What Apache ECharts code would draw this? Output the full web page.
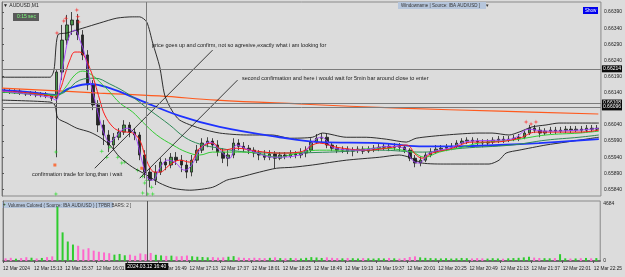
<!DOCTYPE html>
<html><head><meta charset="utf-8">
<script src="https://cdn.jsdelivr.net/npm/echarts@6/dist/echarts.min.js"></script>
<style>html,body{margin:0;padding:0;background:#dcdcdc}#c{width:625px;height:277px}</style>
</head><body><div id="c"></div>
<script>
// minutes after 14:49 (bar centres, 4-minute bars)
const barTime = [2,6,10,14,18,22,26,30,34,38,42,46,50,54,58,62,66,70,74,78,82,86,90,94,98,102,106,110,114,118,122,126,130,134,138,142,146,150,154,158,162,166,170,174,178,182,186,190,194,198,202,206,210,214,218,222,226,230,234,238,242,246,250,254,258,262,266,270,274,278,282,286,290,294,298,302,306,310,314,318,322,326,330,334,338,342,346,350,354,358,362,366,370,374,378,382,386,390,394,398,402,406,410,414,418,422,426,430,434,438,442,446,450,454,458];
const open = [0.66148,0.66145,0.66142,0.66145,0.66139,0.66136,0.66139,0.66133,0.66136,0.66130,
0.66123,0.66204,0.66303,0.66350,0.66365,0.66319,0.66257,0.66164,0.66102,0.66040,
0.66009,0.65978,0.66002,0.66018,0.66040,0.66018,0.66009,0.65947,0.65894,0.65869,
0.65894,0.65925,0.65916,0.65940,0.65931,0.65916,0.65894,0.65931,0.65962,0.65984,
0.65990,0.65978,0.65956,0.65937,0.65947,0.65984,0.65974,0.65968,0.65962,0.65953,
0.65947,0.65940,0.65950,0.65937,0.65947,0.65943,0.65950,0.65947,0.65953,0.65962,
0.65987,0.65999,0.66002,0.65978,0.65968,0.65962,0.65965,0.65959,0.65962,0.65965,
0.65959,0.65965,0.65968,0.65971,0.65974,0.65971,0.65974,0.65971,0.65962,0.65937,
0.65922,0.65931,0.65947,0.65956,0.65965,0.65968,0.65971,0.65974,0.65984,0.65990,
0.65993,0.65990,0.65987,0.65984,0.65987,0.65993,0.65996,0.65993,0.65996,0.65999,
0.66002,0.66015,0.66030,0.66024,0.66015,0.66021,0.66024,0.66021,0.66024,0.66027,
0.66024,0.66027,0.66024,0.66030,0.66027];
const close = [0.66145,0.66142,0.66145,0.66139,0.66136,0.66139,0.66133,0.66136,0.66130,0.66123,
0.66204,0.66303,0.66350,0.66365,0.66319,0.66257,0.66164,0.66102,0.66040,0.66009,
0.65978,0.66002,0.66018,0.66040,0.66018,0.66009,0.65947,0.65894,0.65869,0.65894,
0.65925,0.65916,0.65940,0.65931,0.65916,0.65894,0.65931,0.65962,0.65984,0.65990,
0.65978,0.65956,0.65937,0.65947,0.65984,0.65974,0.65968,0.65962,0.65953,0.65947,
0.65940,0.65950,0.65937,0.65947,0.65943,0.65950,0.65947,0.65953,0.65962,0.65987,
0.65999,0.66002,0.65978,0.65968,0.65962,0.65965,0.65959,0.65962,0.65965,0.65959,
0.65965,0.65968,0.65971,0.65974,0.65971,0.65974,0.65971,0.65962,0.65937,0.65922,
0.65931,0.65947,0.65956,0.65965,0.65968,0.65971,0.65974,0.65984,0.65990,0.65993,
0.65990,0.65987,0.65984,0.65987,0.65993,0.65996,0.65993,0.65996,0.65999,0.66002,
0.66015,0.66030,0.66024,0.66015,0.66021,0.66024,0.66021,0.66024,0.66027,0.66024,
0.66027,0.66024,0.66030,0.66027,0.66030];
const low = [0.66139,0.66136,0.66136,0.66133,0.66130,0.66130,0.66126,0.66126,0.66123,0.66114,
0.65940,0.66179,0.66288,0.66319,0.66303,0.66241,0.66148,0.66086,0.66018,0.65978,
0.65956,0.65962,0.65993,0.66009,0.66002,0.65993,0.65931,0.65875,0.65847,0.65854,
0.65885,0.65900,0.65906,0.65916,0.65894,0.65875,0.65881,0.65922,0.65953,0.65971,
0.65962,0.65943,0.65922,0.65912,0.65937,0.65962,0.65956,0.65950,0.65940,0.65931,
0.65931,0.65931,0.65906,0.65931,0.65934,0.65937,0.65937,0.65937,0.65940,0.65956,
0.65981,0.65987,0.65968,0.65959,0.65953,0.65953,0.65950,0.65943,0.65953,0.65950,
0.65953,0.65956,0.65959,0.65962,0.65959,0.65962,0.65959,0.65953,0.65928,0.65909,
0.65912,0.65925,0.65940,0.65950,0.65959,0.65959,0.65962,0.65968,0.65978,0.65981,
0.65981,0.65978,0.65971,0.65974,0.65981,0.65984,0.65984,0.65987,0.65990,0.65990,
0.65996,0.66009,0.66015,0.66002,0.66009,0.66012,0.66012,0.66015,0.66015,0.66015,
0.66018,0.66015,0.66018,0.66018,0.66021];
const high = [0.66154,0.66151,0.66151,0.66151,0.66145,0.66145,0.66145,0.66142,0.66142,0.66136,
0.66210,0.66350,0.66381,0.66390,0.66384,0.66334,0.66272,0.66179,0.66117,0.66055,
0.66024,0.66015,0.66030,0.66055,0.66049,0.66030,0.66018,0.65962,0.65906,0.65916,
0.65937,0.65937,0.65953,0.65956,0.65947,0.65931,0.65947,0.65978,0.65999,0.66002,
0.65999,0.65993,0.65968,0.65962,0.65999,0.65996,0.65987,0.65978,0.65971,0.65962,
0.65962,0.65962,0.65959,0.65956,0.65956,0.65962,0.65959,0.65968,0.65974,0.65999,
0.66012,0.66015,0.66012,0.65987,0.65978,0.65974,0.65974,0.65971,0.65974,0.65974,
0.65974,0.65978,0.65981,0.65984,0.65984,0.65984,0.65984,0.65978,0.65968,0.65947,
0.65943,0.65956,0.65968,0.65978,0.65978,0.65981,0.65984,0.65993,0.65999,0.66002,
0.66002,0.65999,0.65996,0.65996,0.66002,0.66006,0.66006,0.66006,0.66009,0.66012,
0.66024,0.66040,0.66040,0.66034,0.66030,0.66034,0.66034,0.66034,0.66037,0.66037,
0.66037,0.66037,0.66040,0.66040,0.66040];
const volume = [220,260,190,240,310,270,210,250,320,380,
4450,2350,1600,1350,1250,950,1050,850,760,700,640,520,580,470,520,430,620,560,660,510,
460,420,440,380,400,450,390,350,330,300,
320,280,300,350,400,290,260,240,270,250,
230,260,300,240,220,250,230,210,260,320,
290,250,300,260,240,220,250,230,210,240,
220,200,230,210,250,220,200,240,330,380,
300,260,240,220,210,230,200,220,250,230,
210,240,220,200,230,210,190,220,240,260,
300,350,280,250,230,220,240,560,220,200,
210,230,250,220,240];

// indicator lines: [minute, price]
const maOrange = [[0,0.66154],[75,0.66139],[121,0.66130],[165,0.66117],[229,0.66105],[306,0.66092],[383,0.66083],[459,0.66074]];
const maBlue = [[0,0.66148],[21.5,0.66142],[40.7,0.66133],[52.2,0.66154],[67.6,0.66167],[83,0.66154],[106,0.66117],[136.8,0.66068],[167.5,0.66034],[213.6,0.66002],[244.3,0.65987],[290.4,0.65984],[321.1,0.65974],[351.9,0.65974],[382.6,0.65978],[413.3,0.65984],[459.4,0.65996]];
const maSea = [[0,0.66142],[40.7,0.66133],[48.4,0.66142],[59.9,0.66179],[71.5,0.66185],[83,0.66167],[98.3,0.66133],[113.7,0.66086],[129.1,0.66040],[140.6,0.66002],[152.1,0.65981],[167.5,0.65968],[188.2,0.65956],[213.6,0.65953],[252,0.65956],[290.4,0.65962],[323.5,0.65956],[354.2,0.65968],[392.6,0.65978],[418.7,0.65993],[444.1,0.66002],[459.4,0.66009]];
const maLime = [[0,0.66142],[36.9,0.66133],[42.3,0.66130],[48.4,0.66154],[56.1,0.66195],[62.2,0.66207],[69.1,0.66195],[75.3,0.66173],[83,0.66142],[90.7,0.66108],[100.6,0.66080],[108.3,0.66049],[119.1,0.66009],[131.4,0.65978],[142.1,0.65956],[152.1,0.65947],[162.1,0.65956],[188.2,0.65956],[213.6,0.65940],[221.3,0.65947],[244.3,0.65962],[265.1,0.65962],[290.4,0.65968],[315.8,0.65956],[325,0.65940],[336.5,0.65956],[354.2,0.65971],[367.2,0.65984],[392.6,0.65993],[418.7,0.66009],[444.1,0.66015],[459.4,0.66021]];
const maRed = [[0,0.66145],[21.5,0.66139],[36.9,0.66130],[40.7,0.66126],[44.6,0.66148],[48.4,0.66195],[52.2,0.66241],[56.1,0.66266],[59.9,0.66266],[63.8,0.66250],[67.6,0.66216],[71.5,0.66170],[75.3,0.66117],[79.1,0.66071],[85.3,0.66034],[90.7,0.66021],[96,0.66018],[100.6,0.66015],[106,0.65993],[109.9,0.65947],[113.7,0.65909],[117.5,0.65894],[121.4,0.65894],[129.1,0.65916],[136.8,0.65931],[144.4,0.65925],[152.1,0.65968],[162.1,0.65984],[169.8,0.65962],[180.5,0.65968],[195.9,0.65959],[213.6,0.65953],[229,0.65956],[244.3,0.65984],[257.4,0.65971],[280.4,0.65962],[300.4,0.65971],[311.2,0.65978],[318.8,0.65947],[323.5,0.65937],[331.1,0.65953],[346.5,0.65968],[361.9,0.65987],[377.2,0.65987],[398,0.65999],[411,0.66018],[423.3,0.66018],[444.1,0.66018],[459.4,0.66024]];
const maPurple = [[0,0.66145],[36.9,0.66126],[41.5,0.66117],[44.6,0.66164],[48.4,0.66257],[52.2,0.66319],[56.1,0.66334],[59.9,0.66303],[63.8,0.66257],[67.6,0.66179],[71.5,0.66117],[75.3,0.66055],[79.1,0.66009],[83,0.65987],[86.8,0.65999],[92.2,0.66024],[96.8,0.66030],[102.2,0.66009],[107.6,0.65931],[112.2,0.65875],[116,0.65869],[121.4,0.65906],[127.5,0.65931],[132.9,0.65925],[140.6,0.65900],[146,0.65916],[152.1,0.65962],[159.8,0.65987],[167.5,0.65962],[175.2,0.65937],[180.5,0.65978],[190.5,0.65962],[209.7,0.65940],[229,0.65947],[240.5,0.65993],[245.9,0.66002],[255.8,0.65968],[275,0.65962],[298.1,0.65974],[309.6,0.65968],[315.8,0.65931],[321.1,0.65922],[328.8,0.65953],[344.2,0.65968],[359.6,0.65990],[382.6,0.65993],[394.1,0.65999],[405.7,0.66027],[417.2,0.66021],[444.1,0.66024],[459.4,0.66030]];
const bbUpper = [[0,0.66188],[36.9,0.66188],[40,0.66210],[43,0.66319],[50,0.66325],[62.2,0.66340],[75.3,0.66356],[88.4,0.66371],[100.6,0.66375],[106,0.66375],[111.4,0.66359],[116,0.66294],[121.4,0.66220],[125.2,0.66133],[130.6,0.66086],[136.8,0.66055],[152.1,0.66030],[167.5,0.66015],[188.2,0.66009],[208.2,0.66009],[221.3,0.65999],[238.9,0.66002],[246.6,0.66015],[265.1,0.66002],[280.4,0.66002],[295.8,0.65996],[311.2,0.65987],[318.8,0.65999],[341.9,0.66009],[367.2,0.66015],[377.2,0.66015],[390.3,0.66009],[398,0.66018],[408,0.66034],[418.7,0.66040],[428.7,0.66046],[459.4,0.66046]];
const bbLower = [[0,0.66117],[36.9,0.66111],[40.7,0.66102],[43,0.66061],[50,0.66046],[57.6,0.66030],[67.6,0.66018],[75.3,0.66002],[83,0.65978],[90.7,0.65940],[100.6,0.65909],[111.4,0.65885],[121.4,0.65860],[131.4,0.65844],[144.4,0.65838],[162.1,0.65847],[172.9,0.65869],[182.9,0.65878],[198.2,0.65894],[211.3,0.65906],[223.6,0.65909],[238.9,0.65916],[265.1,0.65931],[290.4,0.65940],[305.8,0.65947],[313.5,0.65940],[323.5,0.65922],[341.9,0.65919],[374.9,0.65919],[382.6,0.65931],[388,0.65953],[398,0.65962],[418.7,0.65978],[434.1,0.65987],[459.4,0.66002]];
const fractalUp = [[42.3,0.66325],[47.6,0.66362],[49.2,0.66371],[57.6,0.66396],[58.4,0.66375],[59.2,0.66359],[403.4,0.66049],[407.2,0.66043],[411,0.66049]];
const fractalDown = [[41.5,0.65956],[76.8,0.65959],[80.7,0.65940],[83,0.65971],[89.1,0.65940],[92.2,0.65922],[94.5,0.65925],[104.5,0.65900],[108.3,0.65881],[111.4,0.65869],[115.2,0.65847],[109.9,0.65860],[108.3,0.65829],[112.2,0.65826],[116,0.65826],[41.5,0.65826]];
const arrowMarks = [[40.7,0.65916],[107.6,0.65906]];
const trendLines = [[[162.1,0.66272],[71.4,0.65906]],[[181.3,0.66179],[106,0.65875]]];
const crossTime = 111, crossTimeText = '2024.03.12 16:40', crossPrice = 0.66214;
const levelLines = [0.66108, 0.66096];
const priceTicks = [0.65840,0.65890,0.65940,0.65990,0.66040,0.66090,0.66140,0.66190,0.66240,0.66290,0.66340,0.66390];
const volTicks = [0, 4684];
const tickMinutes = [0,24,48,72,96,120,144,168,192,216,240,264,288,312,336,360,384,408,432,456];
const tickLabels = ['12 Mar 2024','12 Mar 15:13','12 Mar 15:37','12 Mar 16:01','12 Mar 16:25','12 Mar 16:49','12 Mar 17:13','12 Mar 17:37','12 Mar 18:01','12 Mar 18:25','12 Mar 18:49','12 Mar 19:13','12 Mar 19:37','12 Mar 20:01','12 Mar 20:25','12 Mar 20:49','12 Mar 21:13','12 Mar 21:37','12 Mar 22:01','12 Mar 22:25'];

const FONT = 'Liberation Sans, Arial, sans-serif';
const chart = echarts.init(document.getElementById('c'));
const candleData = barTime.map((t,i)=>[t, open[i], close[i], low[i], high[i]]);
const volData = barTime.map((t,i)=>[t, volume[i]]);
const boxLabel = (txt)=>({show:true, position:'end', formatter:txt, backgroundColor:'#0a0a0a', color:'#fff', fontSize:5, fontFamily:FONT, padding:[1,1], distance:1});
const lineS = (data, color, width, smooth, extra)=>Object.assign({type:'line', xAxisIndex:0, yAxisIndex:0, data, showSymbol:false, smooth:smooth==null?0.35:smooth, silent:true, lineStyle:{color, width}}, extra||{});
const star = 'path://M5 0 L6 4 L10 5 L6 6 L5 10 L4 6 L0 5 L4 4 Z';

const option = {
  animation:false,
  backgroundColor:'#dcdcdc',
  grid:[
    {left:2, top:2, width:601, height:194, show:true, borderColor:'#8a8a8a', borderWidth:1},
    {left:2, top:201, width:601, height:60, show:true, borderColor:'#8a8a8a', borderWidth:1}
  ],
  xAxis:[
    {gridIndex:0, type:'value', min:0, max:461, show:false},
    {gridIndex:1, type:'value', min:0, max:461,
     axisLine:{show:true, lineStyle:{color:'#555', width:1.5}},
     axisTick:{show:true, customValues:tickMinutes, length:2, lineStyle:{color:'#555'}},
     axisLabel:{customValues:tickMinutes, formatter:v=>tickLabels[tickMinutes.indexOf(v)], align:'left', fontSize:4.8, color:'#222', margin:5, fontFamily:FONT, hideOverlap:false},
     splitLine:{show:false}}
  ],
  yAxis:[
    {gridIndex:0, type:'value', position:'right', min:0.65820, max:0.66421,
     axisLine:{show:true, lineStyle:{color:'#777'}},
     axisTick:{show:true, customValues:priceTicks, length:2, lineStyle:{color:'#555'}},
     axisLabel:{customValues:priceTicks, formatter:v=>v.toFixed(5), fontSize:5, color:'#222', margin:3, fontFamily:FONT},
     splitLine:{show:false}},
    {gridIndex:1, type:'value', position:'right', min:0, max:4926,
     axisLine:{show:true, lineStyle:{color:'#777'}},
     axisTick:{show:true, customValues:volTicks, length:2, lineStyle:{color:'#555'}},
     axisLabel:{customValues:volTicks, formatter:v=>String(v), fontSize:5, color:'#222', margin:3, fontFamily:FONT},
     splitLine:{show:false}}
  ],
  series:[
    lineS(maOrange,'#ff5a1e',1.2,0.4,{
      markLine:{symbol:['none','none'], precision:5, silent:true, animation:false, lineStyle:{color:'#7c7c7c', width:1, type:'solid'},
       data:[
         {yAxis:crossPrice, label:boxLabel(crossPrice.toFixed(5))},
         {xAxis:crossTime, label:{show:false}},
         {yAxis:levelLines[0], label:boxLabel(levelLines[0].toFixed(5))},
         {yAxis:levelLines[1], label:boxLabel(levelLines[1].toFixed(5))}
       ]}}),
    lineS(bbUpper,'#1a1a1a',0.9,0.25),
    lineS(bbLower,'#1a1a1a',0.9,0.25),
    lineS(maBlue,'#1e32ff',1.8,0.4),
    lineS(maSea,'#2e8b57',1,0.4),
    {type:'candlestick', xAxisIndex:0, yAxisIndex:0, data:candleData, encode:{x:0, y:[1,2,3,4]}, barWidth:3, silent:true,
     itemStyle:{color:'#4a944a', color0:'#262626', borderColor:'#1e1e1e', borderColor0:'#1e1e1e', borderWidth:0.8}},
    lineS(maLime,'#33cc33',1,0.4),
    lineS(maRed,'#ff1a1a',1,0.4),
    lineS(maPurple,'#a040ff',0.9,0.4),
    {type:'line', xAxisIndex:0, yAxisIndex:0, data:trendLines[0], showSymbol:false, silent:true, lineStyle:{color:'#111', width:0.8}},
    {type:'line', xAxisIndex:0, yAxisIndex:0, data:trendLines[1], showSymbol:false, silent:true, lineStyle:{color:'#111', width:0.8}},
    {type:'scatter', xAxisIndex:0, yAxisIndex:0, data:fractalUp, symbol:star, symbolSize:5, silent:true, itemStyle:{color:'#ff2020'}},
    {type:'scatter', xAxisIndex:0, yAxisIndex:0, data:fractalDown, symbol:star, symbolSize:5, silent:true, itemStyle:{color:'#22dd22'}},
    {type:'scatter', xAxisIndex:0, yAxisIndex:0, data:arrowMarks, symbol:'rect', symbolSize:3, silent:true, itemStyle:{color:'#ff5a1e'}},
    {type:'bar', xAxisIndex:1, yAxisIndex:1, data:volData, barWidth:2, silent:true,
     itemStyle:{color:p=>close[p.dataIndex]>=open[p.dataIndex]?'#2ecc2e':'#ff66cc'},
     markLine:{symbol:['none','none'], silent:true, animation:false, lineStyle:{color:'#555', width:1, type:'solid'},
       data:[{xAxis:crossTime, label:{show:true, position:'start', formatter:crossTimeText, backgroundColor:'#0a0a0a', color:'#fff', fontSize:5, fontFamily:FONT, padding:[1,2], distance:2}}]}}
  ],
  graphic:[
    {type:'text', left:3, top:3, style:{text:'▼ AUDUSD,M1', fontSize:5, fill:'#222', fontFamily:FONT}},
    {type:'group', left:13, top:13, children:[
      {type:'rect', shape:{x:0,y:0,width:26,height:8}, style:{fill:'#5a5a5a'}},
      {type:'text', x:4, y:1.5, style:{text:'0:15 sec', fontSize:5, fill:'#7dff7d', fontFamily:FONT}}
    ]},
    {type:'group', left:398, top:2, children:[
      {type:'rect', shape:{x:0,y:0,width:88,height:7}, style:{fill:'#b6c6dc'}},
      {type:'text', x:3, y:1, style:{text:'Windowname | Source: IBA AUD/USD ]    ▼', fontSize:4.5, fill:'#333', fontFamily:FONT}}
    ]},
    {type:'group', left:583, top:7, children:[
      {type:'rect', shape:{x:0,y:0,width:15,height:7}, style:{fill:'#0000ee'}},
      {type:'text', x:2, y:1, style:{text:'Show', fontSize:4.5, fill:'#fff', fontFamily:FONT}}
    ]},
    {type:'text', left:152, top:42, style:{text:'price goes up and confirm, not so agresive,exactly what i am looking for', fontSize:5.5, fill:'#1a1a1a', fontFamily:FONT}},
    {type:'text', left:242, top:75, style:{text:'second confirmation and here i would wait for 5min bar around close to enter', fontSize:5.5, fill:'#1a1a1a', fontFamily:FONT}},
    {type:'text', left:32, top:171, style:{text:'confirmation trade for long,than i wait', fontSize:5.5, fill:'#1a1a1a', fontFamily:FONT}},
    {type:'group', left:2, top:202, children:[
      {type:'rect', shape:{x:0,y:0,width:111,height:6}, style:{fill:'#b6c6dc'}},
      {type:'text', x:1, y:0.5, style:{text:'+', fontSize:5, fill:'#1a9a1a', fontFamily:FONT}},
      {type:'text', x:6, y:0.8, style:{text:'Volumes Colored ( Source: IBA AUD/USD ) [ TPBR BARS: 2 ]', fontSize:4.5, fill:'#333', fontFamily:FONT}}
    ]}
  ]
};
chart.setOption(option);
</script>
</body></html>
